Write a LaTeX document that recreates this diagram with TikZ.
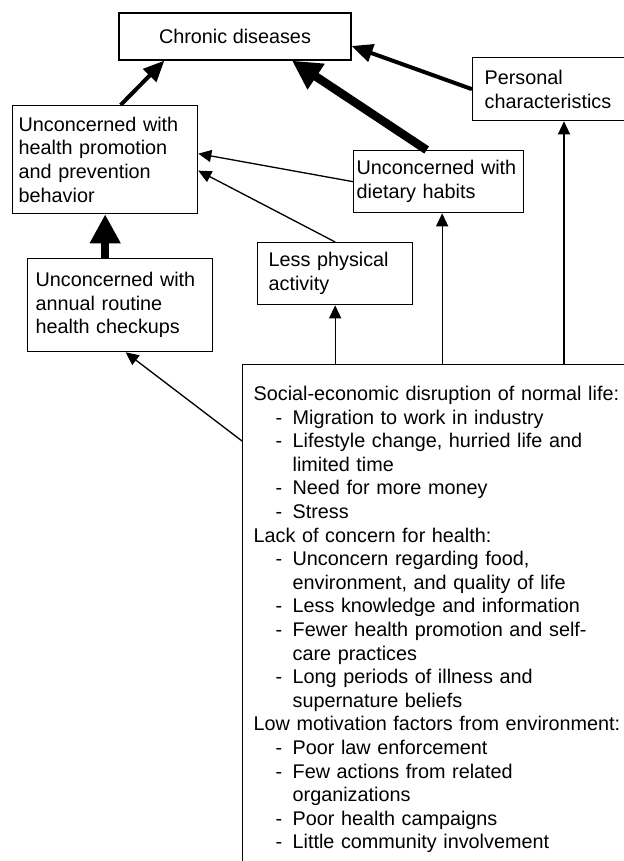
\documentclass[tikz,border=0pt]{standalone}
\usepackage{fontspec}
\setmainfont{Liberation Sans}
\usetikzlibrary{arrows.meta}
\newcommand{\boxfont}{\fontsize{11.27pt}{13.43pt}\selectfont}
\newcommand{\dashitem}{\hspace*{0.44cm}\makebox[0.34cm][l]{-}}
\newcommand{\contline}{\hspace*{0.78cm}}
\begin{document}
\begin{tikzpicture}[every node/.style={font=\boxfont},
  box/.style={draw,line width=0.75pt,inner ysep=0pt,align=left,anchor=north west},
  thinarr/.style={line width=0.75pt,-{Triangle[length=0.26cm,width=0.24cm]}},
  midarr/.style={line width=0.08cm,-{Triangle[length=0.42cm,width=0.36cm]}},
  thickarr/.style={line width=0.17cm,-{Triangle[length=0.58cm,width=0.58cm]}}]
\useasboundingbox (0,0) rectangle (12.46,17.22);
\node[box,align=center,anchor=center,minimum width=4.64cm,minimum height=0.94cm] (chronic) at (4.70,16.49) {Chronic diseases};
\node[box,inner xsep=0.24cm,text width=2.88cm,minimum height=1.26cm] (personal) at (9.44,16.08) {Personal\\characteristics};
\node[box,inner xsep=0.12cm,text width=3.46cm,minimum height=2.16cm] (health) at (0.24,15.12) {Unconcerned with\\health promotion\\and prevention\\behavior};
\node[box,inner xsep=0.06cm,text width=3.28cm,minimum height=1.24cm] (diet) at (7.06,14.22) {Unconcerned with\\dietary habits};
\node[box,inner xsep=0.22cm,text width=2.66cm,minimum height=1.24cm] (phys) at (5.14,12.38) {Less physical\\activity};
\node[box,inner xsep=0.16cm,text width=3.38cm,minimum height=1.86cm] (checkup) at (0.54,12.06) {Unconcerned with\\annual routine\\health checkups};
\node[box,inner xsep=0.22cm,inner ysep=0.43cm,text width=8cm] (causes) at (4.84,9.94) {Social-economic disruption of normal life:\\
\dashitem Migration to work in industry\\
\dashitem Lifestyle change, hurried life and\\
\contline limited time\\
\dashitem Need for more money\\
\dashitem Stress\\
Lack of concern for health:\\
\dashitem Unconcern regarding food,\\
\contline environment, and quality of life\\
\dashitem Less knowledge and information\\
\dashitem Fewer health promotion and self-\\
\contline care practices\\
\dashitem Long periods of illness and\\
\contline supernature beliefs\\
Low motivation factors from environment:\\
\dashitem Poor law enforcement\\
\dashitem Few actions from related\\
\contline organizations\\
\dashitem Poor health campaigns\\
\dashitem Little community involvement};
\coordinate (dietfoot) at ([xshift=0.07cm]diet.south);
\coordinate (persfoot) at ([xshift=1.84cm]personal.south west);
% arrows into chronic diseases
\draw[midarr] ([xshift=0.31cm]health.north) -- ([xshift=0.92cm]chronic.south west);
\draw[thickarr] ([xshift=-0.24cm]diet.north) -- ([xshift=1.14cm]chronic.south);
\draw[midarr] (personal.west) -- ([yshift=-0.19cm]chronic.east);
% arrows into health behavior
\draw[thickarr] (checkup.north -| health.south) -- (health.south);
\draw[thinarr] (diet.west) -- ([yshift=0.12cm]health.east);
\draw[thinarr] (phys.north) -- ([yshift=-0.22cm]health.east);
% arrows from causes
\draw[thinarr] ([yshift=-1.54cm]causes.north west) -- ([xshift=0.11cm]checkup.south);
\draw[thinarr] (causes.north -| phys.south) -- (phys.south);
\draw[thinarr] (causes.north -| dietfoot) -- (dietfoot);
\draw[thinarr] (causes.north -| persfoot) -- (persfoot);
\end{tikzpicture}
\end{document}
